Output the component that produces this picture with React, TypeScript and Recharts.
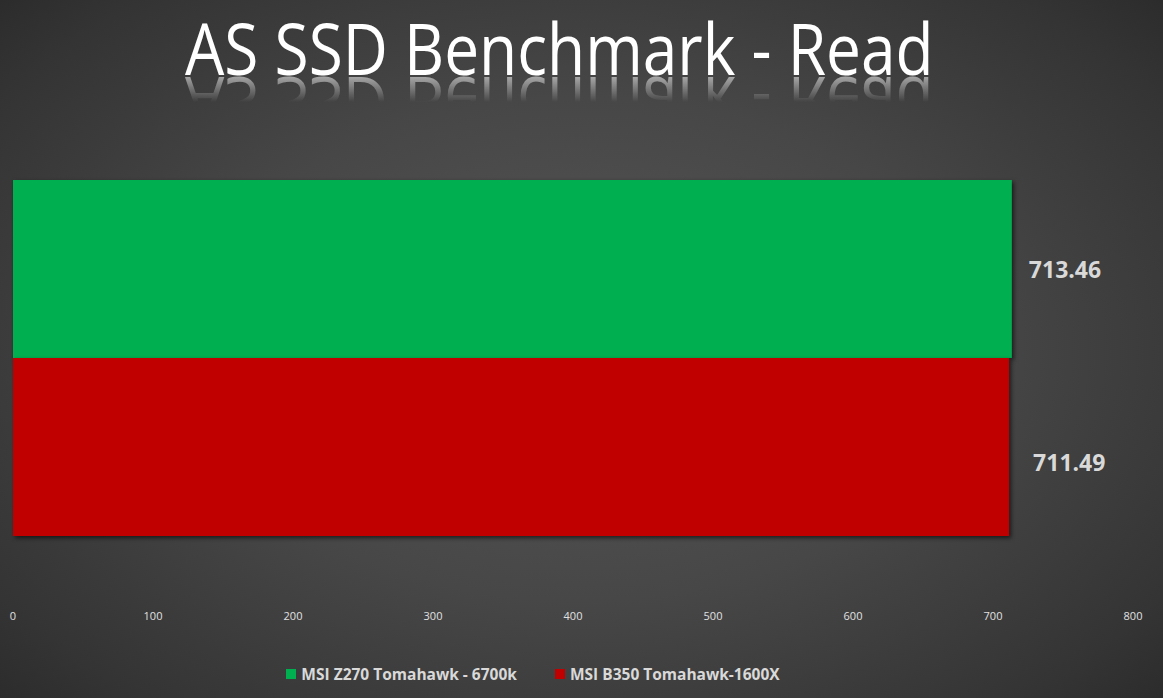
import { Bar, BarChart, LabelList, Legend, XAxis, YAxis } from "recharts";

const categories = ["Read"];
const z270Values = [713.46];
const b350Values = [711.49];
const xTicks = [0, 100, 200, 300, 400, 500, 600, 700, 800];

const seriesNames = ["MSI Z270 Tomahawk - 6700k", "MSI B350 Tomahawk-1600X"];
const seriesColors = ["#00b050", "#c00000"];

const data = categories.map((name, i) => ({
  name,
  z270: z270Values[i],
  b350: b350Values[i],
}));

const title = "AS SSD Benchmark - Read";
const titleScale = 0.8637;

// value label to the right of a bar, with a small vertical nudge
const makeLabel = (offset: number, dy: number) => (props: any) => {
  const { x, y, width, height, value } = props;
  return (
    <text
      x={Number(x) + Number(width) + offset}
      y={Number(y) + Number(height) / 2 + dy}
      fill="#d9d9d9"
      fontSize={23}
      fontWeight={700}
      fontFamily="'Open Sans', sans-serif"
      dominantBaseline="central"
    >
      {Number(value).toFixed(2)}
    </text>
  );
};

function LegendContent() {
  return (
    <div
      style={{
        display: "flex",
        justifyContent: "center",
        alignItems: "center",
        gap: 38,
        paddingRight: 80,
        fontFamily: "'Open Sans', sans-serif",
      }}
    >
      {seriesNames.map((n, i) => (
        <div key={n} style={{ display: "flex", alignItems: "center", gap: 5 }}>
          <span
            style={{
              display: "inline-block",
              width: 10,
              height: 10,
              background: seriesColors[i],
            }}
          />
          <span style={{ color: "#d9d9d9", fontWeight: 700, fontSize: 15.5 }}>{n}</span>
        </div>
      ))}
    </div>
  );
}

export default function App() {
  return (
    <div
      style={{
        position: "absolute",
        left: 0,
        top: 0,
        width: 1163,
        height: 698,
        overflow: "hidden",
        background:
          "radial-gradient(ellipse 75% 80% at 50% 50%, #575757 0%, #474747 45%, #343434 80%, #262626 100%)",
      }}
    >
      <svg width={1163} height={140} style={{ position: "absolute", left: 0, top: 0 }}>
        <defs>
          <linearGradient id="reflFade" x1="0" y1="0" x2="0" y2="1">
            <stop offset="0%" stopColor="#fff" stopOpacity={0.55} />
            <stop offset="100%" stopColor="#fff" stopOpacity={0} />
          </linearGradient>
          <mask id="reflMask" maskUnits="userSpaceOnUse" x={0} y={0} width={1163} height={140}>
            <rect x={0} y={76} width={1163} height={26} fill="url(#reflFade)" />
          </mask>
        </defs>
        <g transform={`translate(185,75) scale(${titleScale},1)`}>
          <text
            x={0}
            y={0}
            fill="#ffffff"
            fontSize={72}
            fontWeight={400}
            fontFamily="'Open Sans', sans-serif"
          >
            {title}
          </text>
        </g>
        <g mask="url(#reflMask)">
          <g transform={`translate(185,77) scale(${titleScale},-1)`}>
            <text
              x={0}
              y={0}
              fill="#ffffff"
              fontSize={72}
              fontWeight={400}
              fontFamily="'Open Sans', sans-serif"
            >
              {title}
            </text>
          </g>
        </g>
      </svg>
      <BarChart
        width={1163}
        height={698}
        data={data}
        layout="vertical"
        margin={{ top: 160, right: 30, bottom: 13, left: 13 }}
        barCategoryGap={20}
        barGap={0}
        style={{ position: "absolute", left: 0, top: 0 }}
      >
        <XAxis
          type="number"
          domain={[0, 800]}
          ticks={xTicks}
          axisLine={false}
          tickLine={false}
          tickMargin={50}
          height={107}
          interval={0}
          tick={{ fill: "#e0e0e0", fontSize: 11, fontFamily: "'Open Sans', sans-serif" }}
        />
        <YAxis type="category" dataKey="name" hide />
        <Legend verticalAlign="bottom" align="center" content={<LegendContent />} />
        <Bar
          dataKey="z270"
          name={seriesNames[0]}
          fill={seriesColors[0]}
          isAnimationActive={false}
          style={{ filter: "drop-shadow(2px 2px 2px rgba(0,0,0,0.6))" }}
        >
          <LabelList dataKey="z270" content={makeLabel(17, 0)} />
        </Bar>
        <Bar
          dataKey="b350"
          name={seriesNames[1]}
          fill={seriesColors[1]}
          isAnimationActive={false}
          style={{ filter: "drop-shadow(2px 2px 2px rgba(0,0,0,0.6))" }}
        >
          <LabelList dataKey="b350" content={makeLabel(24, 15)} />
        </Bar>
      </BarChart>
    </div>
  );
}
